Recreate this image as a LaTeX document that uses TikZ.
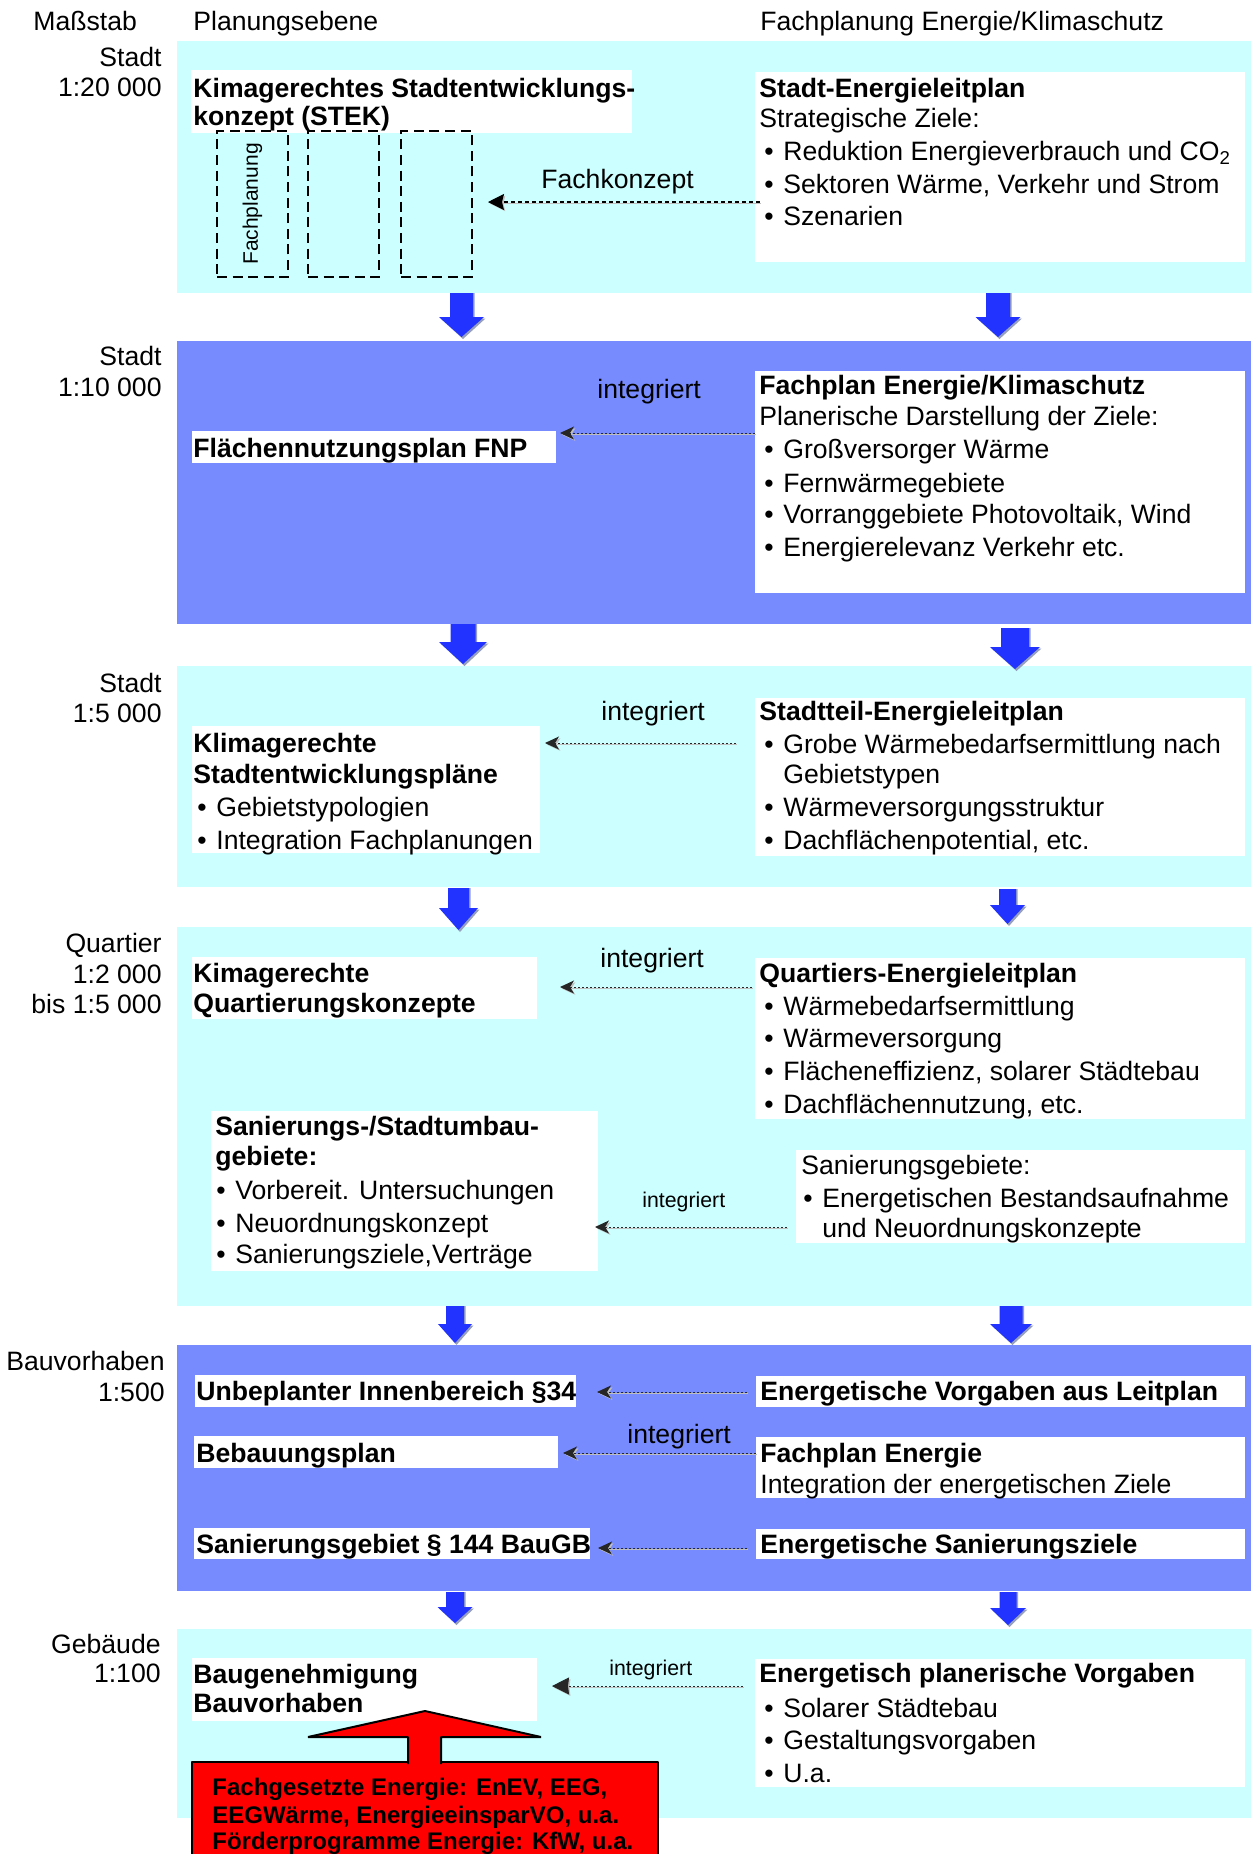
\documentclass[tikz,border=0pt]{standalone}
\usepackage{fontspec}
\setmainfont{Liberation Sans}
\usetikzlibrary{arrows.meta,fit}
\definecolor{bandcyan}{RGB}{204,255,255}
\definecolor{bandblue}{RGB}{119,139,255}
\definecolor{arrblue}{RGB}{34,51,255}
\definecolor{arrshadow}{RGB}{150,160,190}
\definecolor{redbox}{RGB}{255,0,0}
\newcommand\bul{\makebox[9.5pt][l]{\textbullet}}
\newcommand\barrow[7]{%
 \begin{scope}[shift={(#2,0)}]
 \fill[arrshadow] (-#5+1.5,#3) -- (#5+1.5,#3) -- (#5+1.5,#7+1.5) -- (#6+1.5,#7+1.5) -- (1.5,#4+2) -- (-#6+1.5,#7+1.5) -- (-#5+1.5,#7+1.5) -- cycle;
 \fill[arrblue] (-#5,#3) -- (#5,#3) -- (#5,#7) -- (#6,#7) -- (0,#4) -- (-#6,#7) -- (-#5,#7) -- cycle;
 \coordinate (#1) at (0,#4);
 \end{scope}}
\tikzset{
 txt/.style={anchor=base west, inner sep=0pt, font=\fontsize{13.3pt}{16pt}\selectfont},
 btxt/.style={anchor=base west, inner sep=0pt, font=\fontsize{13.3pt}{16pt}\selectfont\bfseries},
 stxt/.style={anchor=base west, inner sep=0pt, font=\fontsize{10.65pt}{13pt}\selectfont},
 rtxt/.style={anchor=base east, inner sep=0pt, font=\fontsize{13.3pt}{16pt}\selectfont},
 redtxt/.style={anchor=base west, inner sep=0pt, font=\fontsize{12pt}{14pt}\selectfont\bfseries},
 wbox/.style={fill=white, draw=none, inner sep=0pt},
 cband/.style={fill=bandcyan, draw=none, inner sep=0pt},
 bband/.style={fill=bandblue, draw=none, inner sep=0pt},
 dbox/.style={draw=black, line width=0.8pt, dash pattern=on 5pt off 2.8pt, inner sep=0pt},
 conn/.style={line width=0.5pt, draw=black!85, dash pattern=on 1pt off 1pt,
   -{Stealth[length=7pt,width=6.5pt,inset=2pt]},
   preaction={draw=gray!50, transform canvas={shift={(1.5,1.5)}}}},
 bigconn/.style={line width=0.6pt, draw=black, dash pattern=on 2pt off 1.5pt,
   -{Stealth[length=8pt,width=8pt,inset=1pt]},
   preaction={draw=gray!50, transform canvas={shift={(1.5,1.5)}}}},
 dotconn/.style={line width=0.5pt, draw=black!85, dash pattern=on 1pt off 1pt,
   -{Stealth[length=8.5pt,width=8.5pt,inset=0.5pt]},
   preaction={draw=gray!50, transform canvas={shift={(1.5,1.5)}}}},
 redshape/.style={fill=redbox, draw=black, line width=1pt, line join=bevel, inner sep=0pt},
}
\begin{document}
\begin{tikzpicture}[x=0.5pt,y=-0.5pt]
\path[use as bounding box] (0,0) rectangle (1251,1854);
\clip (0,0) rectangle (1251,1854);
\fill[white] (0,0) rectangle (1251,1854);

% header
\node[txt] (hM) at (33,30) {Maßstab};
\node[txt] (hP) at (193,30) {Planungsebene};
\node[txt] (hF) at (760,30) {Fachplanung Energie/Klimaschutz};

% bands
\node[cband, fit={(177,41)(1251,293)}] (B1) {};
\node[bband, fit={(177,341)(1251,624)}] (B2) {};
\node[cband, fit={(177,666)(1251,887)}] (B3) {};
\node[cband, fit={(177,927)(1251,1306)}] (B4) {};
\node[bband, fit={(177,1345)(1251,1591)}] (B5) {};
\node[cband, fit={(177,1629)(1251,1818)}] (B6) {};

% block arrows
\barrow{a1l}{461.5}{293}{337}{11.5}{22.5}{317}
\barrow{a1r}{998}{293}{337}{12}{22.5}{317}
\barrow{a2l}{463}{624}{664}{12.5}{24}{642}
\barrow{a2r}{1015}{628}{669}{14}{25}{647}
\barrow{a3l}{458.5}{888}{930}{10.5}{19.5}{908}
\barrow{a3r}{1007.5}{889}{924}{8.5}{17.5}{905}
\barrow{a4l}{455}{1306}{1343}{9}{17}{1324}
\barrow{a4r}{1011}{1306}{1343}{11.5}{21}{1324}
\barrow{a5l}{455}{1592}{1623}{9}{17.5}{1607}
\barrow{a5r}{1008}{1592}{1625}{8.5}{18}{1608}

% ---------- Band 1
\node[rtxt] (s1a) at (162,66) {Stadt};
\node[rtxt] (s1b) at (162,96) {1:20 000};
\node[wbox, fit={(191,70)(632,133)}] (L1) {};
\node[btxt] (L1a) at (193,97) {Kimagerechtes Stadtentwicklungs-};
\node[btxt] (L1b) at (193,125) {konzept (STEK)};
\node[dbox, fit={(217,131)(288,277)}] (D1) {};
\node[dbox, fit={(308,131)(379,277)}] (D2) {};
\node[dbox, fit={(401,131)(472,277)}] (D3) {};
\node[rotate=90, inner sep=0pt, font=\fontsize{10.5pt}{12pt}\selectfont] (D1t) at (D1.center) {Fachplanung};
\node[wbox, fit={(755,72)(1245,262)}] (R1) {};
\node[btxt] (R1a) at (759,97) {Stadt-Energieleitplan};
\node[txt] (R1b) at (759,127) {Strategische Ziele:};
\node[txt] (R1c) at (764,160) {\bul Reduktion Energieverbrauch und CO\textsubscript{2}};
\node[txt] (R1d) at (764,193) {\bul Sektoren Wärme, Verkehr und Strom};
\node[txt] (R1e) at (764,225) {\bul Szenarien};
\node[txt] (fk) at (541,188) {Fachkonzept};
\coordinate (fkE) at (488,202);
\draw[bigconn] ([xshift=2.5pt]R1.west |- fkE) -- (fkE);

% ---------- Band 2
\node[rtxt] (s2a) at (162,365) {Stadt};
\node[rtxt] (s2b) at (162,396) {1:10 000};
\node[wbox, fit={(192,431)(556,463)}] (L2) {};
\node[btxt] (L2a) at (193,457) {Flächennutzungsplan FNP};
\node[wbox, fit={(755,371)(1245,593)}] (R2) {};
\node[btxt] (R2a) at (759,394) {Fachplan Energie/Klimaschutz};
\node[txt] (R2b) at (759,425) {Planerische Darstellung der Ziele:};
\node[txt] (R2c) at (764,458) {\bul Großversorger Wärme};
\node[txt] (R2d) at (764,492) {\bul Fernwärmegebiete};
\node[txt] (R2e) at (764,523) {\bul Vorranggebiete Photovoltaik, Wind};
\node[txt] (R2f) at (764,556) {\bul Energierelevanz Verkehr etc.};
\node[txt] (i2) at (597,398) {integriert};
\coordinate (c2E) at (560,433);
\draw[conn] (R2.west |- c2E) -- (c2E);

% ---------- Band 3
\node[rtxt] (s3a) at (162,692) {Stadt};
\node[rtxt] (s3b) at (162,722) {1:5 000};
\node[wbox, fit={(192,726)(540,853)}] (L3) {};
\node[btxt] (L3a) at (193,752) {Klimagerechte};
\node[btxt] (L3b) at (193,783) {Stadtentwicklungspläne};
\node[txt] (L3c) at (197,816) {\bul Gebietstypologien};
\node[txt] (L3d) at (197,849) {\bul Integration Fachplanungen};
\node[wbox, fit={(755,698)(1245,856)}] (R3) {};
\node[btxt] (R3a) at (759,720) {Stadtteil-Energieleitplan};
\node[txt] (R3b) at (764,753) {\bul Grobe Wärmebedarfsermittlung nach};
\node[txt] (R3c) at (783,783) {Gebietstypen};
\node[txt] (R3d) at (764,816) {\bul Wärmeversorgungsstruktur};
\node[txt] (R3e) at (764,849) {\bul Dachflächenpotential, etc.};
\node[txt] (i3) at (601,720) {integriert};
\coordinate (c3E) at (545,743);
\draw[conn] ([xshift=-9.5pt]R3.west |- c3E) -- (c3E);

% ---------- Band 4
\node[rtxt] (s4a) at (162,952) {Quartier};
\node[rtxt] (s4b) at (162,983) {1:2 000};
\node[rtxt] (s4c) at (162,1013) {bis 1:5 000};
\node[wbox, fit={(192,957)(537,1019)}] (L4) {};
\node[btxt] (L4a) at (193,982) {Kimagerechte};
\node[btxt] (L4b) at (193,1012) {Quartierungskonzepte};
\node[wbox, fit={(755,958)(1245,1119)}] (R4) {};
\node[btxt] (R4a) at (759,982) {Quartiers-Energieleitplan};
\node[txt] (R4b) at (764,1015) {\bul Wärmebedarfsermittlung};
\node[txt] (R4c) at (764,1047) {\bul Wärmeversorgung};
\node[txt] (R4d) at (764,1080) {\bul Flächeneffizienz, solarer Städtebau};
\node[txt] (R4e) at (764,1113) {\bul Dachflächennutzung, etc.};
\node[txt] (i4) at (600,967) {integriert};
\coordinate (c4E) at (560,987);
\draw[conn] ([xshift=-1.5pt]R4.west |- c4E) -- (c4E);
\node[wbox, fit={(211,1111)(598,1271)}] (L4s) {};
\node[btxt] (L4sa) at (215,1135) {Sanierungs-/Stadtumbau-};
\node[btxt] (L4sb) at (215,1165) {gebiete:};
\node[txt] (L4sc) at (216,1199) {\bul Vorbereit. Untersuchungen};
\node[txt] (L4sd) at (216,1232) {\bul Neuordnungskonzept};
\node[txt] (L4se) at (216,1263) {\bul Sanierungsziele,Verträge};
\node[wbox, fit={(796,1150)(1245,1243)}] (R4s) {};
\node[txt] (R4sa) at (801,1174) {Sanierungsgebiete:};
\node[txt] (R4sb) at (803,1207) {\bul Energetischen Bestandsaufnahme};
\node[txt] (R4sc) at (822,1237) {und Neuordnungskonzepte};
\node[stxt] (i4s) at (642,1207) {integriert};
\coordinate (c4sE) at (595,1227);
\draw[conn] ([xshift=-4.5pt]R4s.west |- c4sE) -- (c4sE);

% ---------- Band 5
\node[rtxt] (s5a) at (165,1370) {Bauvorhaben};
\node[rtxt] (s5b) at (165,1401) {1:500};
\node[wbox, fit={(195,1375)(576,1407)}] (L5a) {};
\node[btxt] (L5at) at (196,1400) {Unbeplanter Innenbereich §34};
\node[wbox, fit={(194,1436)(558,1468)}] (L5b) {};
\node[btxt] (L5bt) at (196,1462) {Bebauungsplan};
\node[wbox, fit={(194,1528)(590,1559)}] (L5c) {};
\node[btxt] (L5ct) at (196,1553) {Sanierungsgebiet § 144 BauGB};
\node[wbox, fit={(756,1376)(1245,1407)}] (R5a) {};
\node[btxt] (R5at) at (760,1400) {Energetische Vorgaben aus Leitplan};
\node[wbox, fit={(756,1437)(1245,1498)}] (R5b) {};
\node[btxt] (R5bt) at (760,1462) {Fachplan Energie};
\node[txt] (R5bu) at (760,1493) {Integration der energetischen Ziele};
\node[wbox, fit={(756,1529)(1245,1559)}] (R5c) {};
\node[btxt] (R5ct) at (760,1553) {Energetische Sanierungsziele};
\node[txt] (i5) at (627,1443) {integriert};
\coordinate (c5aE) at (597,1392);
\coordinate (c5bE) at (563,1453);
\coordinate (c5cE) at (598,1548);
\draw[conn] ([xshift=-4.5pt]R5a.west |- c5aE) -- (c5aE);
\draw[conn] (R5b.west |- c5bE) -- (c5bE);
\draw[conn] ([xshift=-4.5pt]R5c.west |- c5cE) -- (c5cE);

% ---------- Band 6
\node[rtxt] (s6a) at (161,1653) {Gebäude};
\node[rtxt] (s6b) at (161,1682) {1:100};
\node[wbox, fit={(192,1658)(537,1721)}] (L6) {};
\node[btxt] (L6a) at (193,1683) {Baugenehmigung};
\node[btxt] (L6b) at (193,1712) {Bauvorhaben};
\node[wbox, fit={(755,1659)(1245,1787)}] (R6) {};
\node[btxt] (R6a) at (759,1682) {Energetisch planerische Vorgaben};
\node[txt] (R6b) at (764,1717) {\bul Solarer Städtebau};
\node[txt] (R6c) at (764,1749) {\bul Gestaltungsvorgaben};
\node[txt] (R6d) at (764,1782) {\bul U.a.};
\node[stxt] (i6) at (609,1675) {integriert};
\coordinate (c6E) at (552,1686);
\draw[dotconn] ([xshift=-6pt]R6.west |- c6E) -- (c6E);

% red box and arrow
\node[redshape, fit={(192,1762)(658,1900)}] (RB) {};
\draw[redshape] (408,1764) -- (408,1737) -- (308,1737) -- (425,1711) -- (541,1737) -- (441,1737) -- (441,1764);
\node[redtxt] (RB1) at (212,1795) {Fachgesetzte Energie: EnEV, EEG,};
\node[redtxt] (RB2) at (212,1823) {EEGWärme, EnergieeinsparVO, u.a.};
\node[redtxt] (RB3) at (212,1849) {Förderprogramme Energie: KfW, u.a.};
\end{tikzpicture}
\end{document}
